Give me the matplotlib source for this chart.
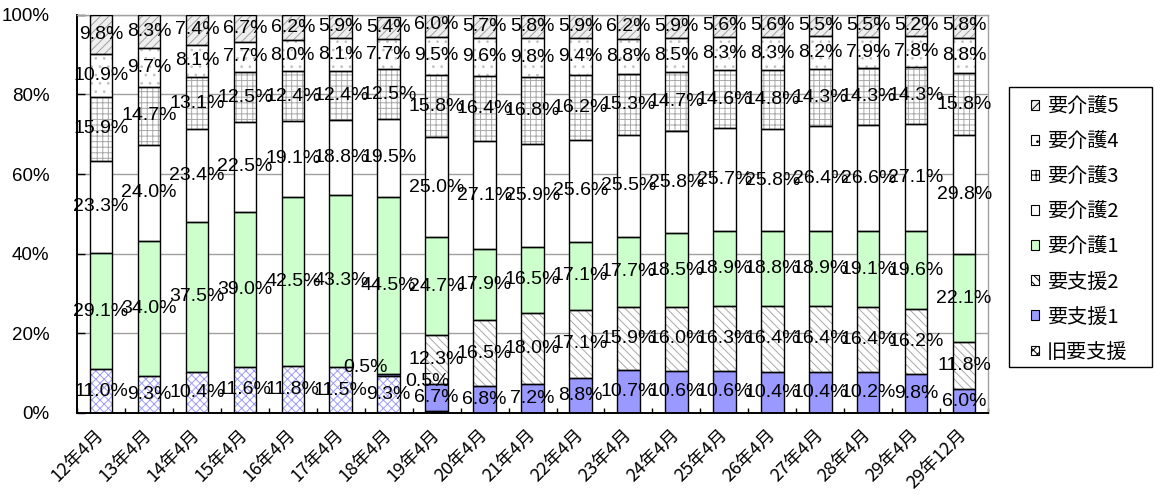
"""要介護度別認定者構成比の推移"""
import numpy as np
import matplotlib
matplotlib.use("Agg")
from matplotlib import pyplot as plt
from matplotlib.patches import Patch, Rectangle

months = ["12年4月", "13年4月", "14年4月", "15年4月", "16年4月", "17年4月",
          "18年4月", "19年4月", "20年4月", "21年4月", "22年4月", "23年4月",
          "24年4月", "25年4月", "26年4月", "27年4月", "28年4月", "29年4月",
          "29年12月"]

# 構成比 (%), 下から順に積み上げ
kyu_yoshien = [11.0, 9.3, 10.4, 11.6, 11.8, 11.5, 9.3, 0.5, 0, 0, 0, 0, 0, 0, 0, 0, 0, 0, 0]
yoshien1 = [0, 0, 0, 0, 0, 0, 0.5, 6.7, 6.8, 7.2, 8.8, 10.7, 10.6, 10.6, 10.4, 10.4, 10.2, 9.8, 6.0]
yoshien2 = [0, 0, 0, 0, 0, 0, 0, 12.3, 16.5, 18.0, 17.1, 15.9, 16.0, 16.3, 16.4, 16.4, 16.4, 16.2, 11.8]
kaigo1 = [29.1, 34.0, 37.5, 39.0, 42.5, 43.3, 44.5, 24.7, 17.9, 16.5, 17.1, 17.7, 18.5, 18.9, 18.8, 18.9, 19.1, 19.6, 22.1]
kaigo2 = [23.3, 24.0, 23.4, 22.5, 19.1, 18.8, 19.5, 25.0, 27.1, 25.9, 25.6, 25.5, 25.8, 25.7, 25.8, 26.4, 26.6, 27.1, 29.8]
kaigo3 = [15.9, 14.7, 13.1, 12.5, 12.4, 12.4, 12.5, 15.8, 16.4, 16.8, 16.2, 15.3, 14.7, 14.6, 14.8, 14.3, 14.3, 14.3, 15.8]
kaigo4 = [10.9, 9.7, 8.1, 7.7, 8.0, 8.1, 7.7, 9.5, 9.6, 9.8, 9.4, 8.8, 8.5, 8.3, 8.3, 8.2, 7.9, 7.8, 8.8]
kaigo5 = [9.8, 8.3, 7.4, 6.7, 6.2, 5.9, 5.4, 6.0, 5.7, 5.8, 5.9, 6.2, 5.9, 5.6, 5.6, 5.5, 5.5, 5.2, 5.8]

series_names = ["旧要支援", "要支援1", "要支援2", "要介護1", "要介護2", "要介護3", "要介護4", "要介護5"]
series_values = [kyu_yoshien, yoshien1, yoshien2, kaigo1, kaigo2, kaigo3, kaigo4, kaigo5]

# (塗り, ハッチ, ハッチ色)
styles = [
    ("white", "xxxx", "#9c9cff"),
    ("#9999ff", None, "#9999ff"),
    ("white", "\\\\\\\\", "#a8a8a8"),
    ("#ccffcc", None, "#ccffcc"),
    ("white", None, "white"),
    ("white", "+++", "#a8a8a8"),
    ("white", "..", "#c0c0c0"),
    ("#eeeeee", "////", "#a0a0a0"),
]

# 小さい区分のラベルは手で少しずらす (系列, 棒) -> (dx, dy)
label_nudge = {(1, 6): (-0.48, 1.8), (0, 7): (-0.19, 7.6)}

NUM = ["Liberation Sans", "DejaVu Sans"]
JP = ["Noto Sans CJK JP", "DejaVu Sans"]
plt.rcParams["hatch.linewidth"] = 0.7

fig = plt.figure(figsize=(11.55, 4.95), dpi=100)
ax = fig.add_axes([0.0667, 0.1657, 0.7888, 0.8043])

x = np.arange(len(months))
width = 0.47
bottom = np.zeros(len(months))
for si, (vals, (face, hatch, hcol)) in enumerate(zip(series_values, styles)):
    vals = np.array(vals, dtype=float)
    m = vals > 0
    ax.bar(x[m], vals[m], width, bottom=bottom[m], color=face, hatch=hatch,
           edgecolor=hcol, linewidth=0, zorder=2)
    ax.bar(x[m], vals[m], width, bottom=bottom[m], fill=False,
           edgecolor="black", linewidth=1.0, zorder=3)
    for i in np.where(m)[0]:
        dx, dy = label_nudge.get((si, i), (0, 0))
        ax.text(x[i] + dx, bottom[i] + vals[i] / 2 + dy, f"{vals[i]:.1f}%",
                ha="center", va="center", fontsize=14, family=NUM, zorder=4)
    bottom += vals

ax.set_xlim(-0.5, len(months) - 0.5)
ax.set_ylim(0, 100)
ax.set_yticks(range(0, 101, 20))
ax.set_yticklabels([f"{v}%" for v in range(0, 101, 20)], family=NUM, fontsize=13.5)
ax.yaxis.grid(True, color="#a0a0a0", linewidth=1.0, zorder=0)
ax.set_axisbelow(True)
ax.tick_params(axis="y", direction="in", length=6, width=1.0, pad=20)

ax.set_xticks(x)
ax.set_xticklabels(months, family=JP, fontsize=13, rotation=45, ha="right",
                   va="center", rotation_mode="anchor")
ax.set_xticks(np.arange(-0.5, len(months), 1), minor=True)
ax.tick_params(axis="x", which="major", length=0, pad=14)
ax.tick_params(axis="x", which="minor", direction="in", length=3.5, width=1.0)

for side in ["top", "right"]:
    ax.spines[side].set_color("#a0a0a0")
    ax.spines[side].set_linewidth(1.0)
for side in ["left", "bottom"]:
    ax.spines[side].set_linewidth(1.4)

# 凡例: 枠は別に描き、中身は枠なしで置く
fig.patches.append(Rectangle((1009 / 1155, 1 - 367 / 495), 143 / 1155, 280 / 495,
                             transform=fig.transFigure, fill=False,
                             edgecolor="black", linewidth=1.0))
handles = [Patch(facecolor=face, hatch=hatch, edgecolor="black", linewidth=0.8)
           for face, hatch, _ in styles]
fig.legend(handles[::-1], series_names[::-1], loc="upper left",
           bbox_to_anchor=(1031 / 1155, 1 - 96 / 495), prop={"family": JP, "size": 14.5},
           frameon=False, handlelength=0.38, handleheight=0.38, handletextpad=0.4,
           labelspacing=0.7, borderpad=0, borderaxespad=0)

fig.savefig("out.png", dpi=100)
